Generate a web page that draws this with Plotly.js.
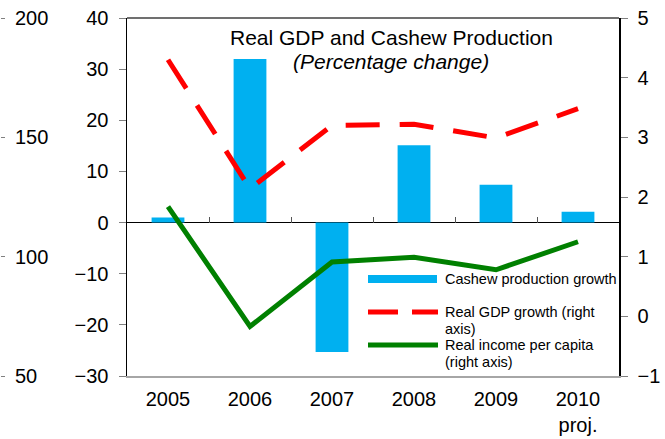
<!DOCTYPE html>
<html>
<head>
<meta charset="utf-8">
<script src="https://cdn.plot.ly/plotly-3.0.1.min.js"></script>
<style>html,body{margin:0;padding:0;background:#fff;}#chart{width:665px;height:439px;}</style>
</head>
<body>
<div id="chart"></div>
<script>
// ---- data ----
var years = ["2005", "2006", "2007", "2008", "2009", "2010<br>proj."];
var cashewGrowth = [1.0, 32.0, -25.3, 15.1, 7.4, 2.1];
var realGdpGrowth = [4.30, 2.14, 3.20, 3.22, 2.99, 3.48];
var realIncomePerCapita = [1.84, -0.17, 0.91, 0.99, 0.78, 1.25];
var leftTicks = [-30, -20, -10, 0, 10, 20, 30, 40];
var rightTicks = [-1, 0, 1, 2, 3, 4, 5];
var farLeftTicks = [50, 100, 150, 200];
var categoryBoundaries = [0.5, 1.5, 2.5, 3.5, 4.5];
var legendLines = ["Cashew production growth", "Real GDP growth (right", "axis)", "Real income per capita", "(right axis)"];

// ---- layout helpers (pixel -> paper) ----
var W = 665, H = 439, ML = 0, MR = 46, MT = 18, MB = 63;
var PW = W - ML - MR, PH = H - MT - MB;
function px(x) { return (x - ML) / PW; }
function py(y) { return (H - MB - y) / PH; }

var FONT = "Liberation Sans, Arial, sans-serif";
var BLUE = "#00B0F0", RED = "#FF0000", GREEN = "#008000";

var traces = [
  { type: "bar", x: years, y: cashewGrowth, xaxis: "x", yaxis: "y",
    marker: { color: BLUE }, width: 0.4, name: "Cashew production growth", hoverinfo: "skip" },
  { type: "scatter", mode: "lines", x: years, y: realGdpGrowth, xaxis: "x", yaxis: "y2",
    line: { color: RED, width: 5, dash: "34px,20px" }, name: "Real GDP growth (right axis)" },
  { type: "scatter", mode: "lines", x: years, y: realIncomePerCapita, xaxis: "x", yaxis: "y2",
    line: { color: GREEN, width: 5 }, name: "Real income per capita (right axis)" },
  // empty helper traces so the boundary-tick axis and the far-left scale are drawn
  { type: "scatter", mode: "markers", x: [], y: [], xaxis: "x2", yaxis: "y", hoverinfo: "skip" },
  { type: "scatter", mode: "markers", x: [], y: [], xaxis: "x", yaxis: "y3", hoverinfo: "skip" }
];

var tf = { family: FONT, size: 20, color: "#000" };
var lf = { family: FONT, size: 14.5, color: "#000" };

var layout = {
  width: W, height: H,
  margin: { l: ML, r: MR, t: MT, b: MB, pad: 0 },
  paper_bgcolor: "#fff", plot_bgcolor: "rgba(0,0,0,0)",
  showlegend: false,
  font: tf,
  xaxis: {
    type: "category", domain: [px(127), 1], range: [-0.5, 5.5], fixedrange: true,
    showline: true, linecolor: "#a6a6a6", linewidth: 1.5, ticks: "", showgrid: false,
    zeroline: false, tickfont: tf, ticklabelstandoff: 4
  },
  xaxis2: {
    type: "linear", overlaying: "x", anchor: "free", position: py(222.6), range: [-0.5, 5.5],
    tickmode: "array", tickvals: categoryBoundaries, ticks: "inside", ticklen: 6, tickcolor: "#555",
    showticklabels: false, showline: false, showgrid: false, zeroline: false
  },
  yaxis: {
    range: [-30, 40], tickvals: leftTicks, ticks: "outside", ticklen: 7, tickcolor: "#808080",
    showline: true, linecolor: "#000", linewidth: 1.5, showgrid: false,
    zeroline: true, zerolinecolor: "#000", zerolinewidth: 1.5,
    tickfont: tf, ticklabelstandoff: 6
  },
  yaxis2: {
    overlaying: "y", side: "right", anchor: "x", range: [-1, 5], tickvals: rightTicks,
    ticks: "outside", ticklen: 7, tickcolor: "#808080",
    showline: true, linecolor: "#000", linewidth: 1.5, showgrid: false, zeroline: false,
    tickfont: tf, ticklabelstandoff: 6
  },
  yaxis3: {
    overlaying: "y", anchor: "free", position: 0, side: "right", range: [50, 200], tickvals: farLeftTicks,
    ticks: "outside", ticklen: 4, tickcolor: "#808080", showline: false, showgrid: false, zeroline: false,
    tickfont: tf, ticklabelstandoff: 6
  },
  shapes: [
    { type: "line", xref: "paper", yref: "paper", x0: px(127), x1: 1, y0: 1, y1: 1, line: { color: "#404040", width: 1.5 } },
    { type: "rect", xref: "paper", yref: "paper", x0: px(368), x1: px(437), y0: py(283), y1: py(275), fillcolor: BLUE, line: { width: 0 } },
    { type: "line", xref: "paper", yref: "paper", x0: px(368), x1: px(438), y0: py(312), y1: py(312), line: { color: RED, width: 5, dash: "30px,14px" } },
    { type: "line", xref: "paper", yref: "paper", x0: px(368), x1: px(438), y0: py(345), y1: py(345), line: { color: GREEN, width: 5 } }
  ],
  annotations: [
    { xref: "paper", yref: "paper", x: px(391), y: py(37), text: "Real GDP and Cashew Production", showarrow: false,
      xanchor: "center", yanchor: "middle", font: { family: FONT, size: 21, color: "#000" } },
    { xref: "paper", yref: "paper", x: px(391), y: py(62), text: "<i>(Percentage change)</i>", showarrow: false,
      xanchor: "center", yanchor: "middle", font: { family: FONT, size: 21, color: "#000" } }
  ]
};

var legendY = [279, 312, 329, 345, 362];
legendLines.forEach(function (t, i) {
  layout.annotations.push({ xref: "paper", yref: "paper", x: px(443), y: py(legendY[i]), text: t, showarrow: false,
    xanchor: "left", yanchor: "middle", align: "left", font: lf });
});

Plotly.newPlot("chart", traces, layout, { displayModeBar: false, staticPlot: true });
</script>
</body>
</html>
